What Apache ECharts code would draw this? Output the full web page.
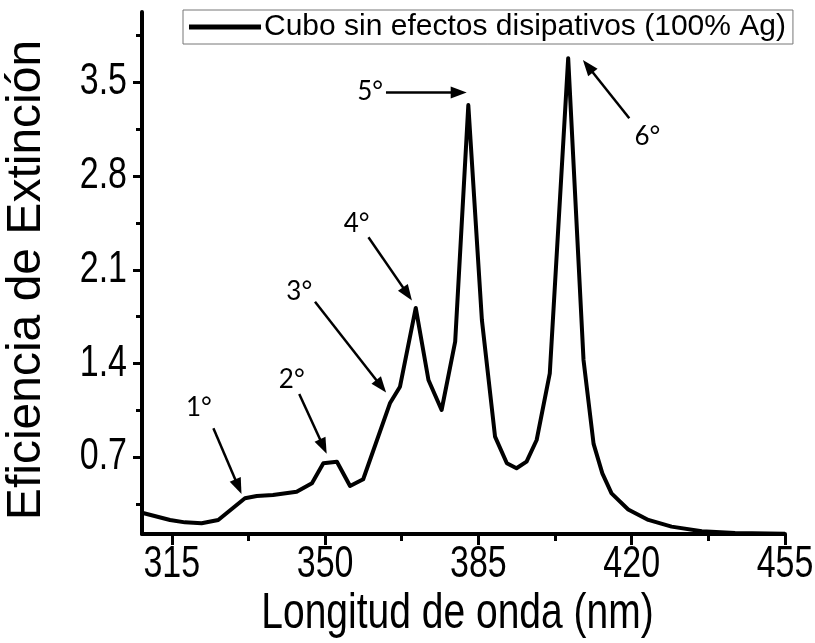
<!DOCTYPE html>
<html>
<head>
<meta charset="utf-8">
<script src="https://cdn.jsdelivr.net/npm/echarts@6/dist/echarts.min.js"></script>
<style>
html,body{margin:0;padding:0;background:#fff;}
#chart{width:815px;height:643px;}
</style>
</head>
<body>
<div id="chart"></div>
<script>
// ---- data ----
var seriesName = 'Cubo sin efectos disipativos (100% Ag)';
var xTitle = 'Longitud de onda (nm)';
var yTitle = 'Eficiencia de Extinción';
var wavelength = [308.2, 314.6, 318.0, 321.8, 325.6, 331.7, 334.4, 338.1, 343.5, 347.0, 349.6, 352.7, 355.7, 358.7, 364.8, 367.1, 370.7, 373.6, 376.6, 379.7, 382.7, 385.8, 388.8, 391.5, 393.7, 396.0, 398.3, 401.3, 405.5, 409.0, 411.3, 413.3, 415.4, 419.2, 423.8, 429.1, 436.0, 443.6, 455.0];
var efficiency = [0.286, 0.232, 0.214, 0.207, 0.232, 0.394, 0.411, 0.419, 0.443, 0.506, 0.655, 0.667, 0.486, 0.536, 1.103, 1.227, 1.815, 1.277, 1.053, 1.563, 3.33, 1.725, 0.854, 0.655, 0.618, 0.667, 0.829, 1.327, 3.68, 1.427, 0.80, 0.58, 0.43, 0.31, 0.232, 0.182, 0.148, 0.134, 0.128];
var xMajorTicks = [315, 350, 385, 420, 455];
var xMinorTicks = [332.5, 367.5, 402.5, 437.5];
var yMajorTicks = [0.7, 1.4, 2.1, 2.8, 3.5];
var yMinorTicks = [0.35, 1.05, 1.75, 2.45, 3.15, 3.85];
var xRange = [308.2, 455];
var yRange = [0.127, 4.025];
// annotation labels and arrows (data coordinates)
var annLabels = ['1°', '2°', '3°', '4°', '5°', '6°'];
var annLabelX = [321.2, 342.4, 344.1, 357.2, 360.3, 423.6];
var annLabelY = [1.072, 1.277, 1.937, 2.448, 3.43, 3.094];
var arrowFromX = [324.5, 344.1, 347.7, 359.9, 363.9, 419.45];
var arrowFromY = [0.917, 1.173, 1.862, 2.343, 3.423, 3.232];
var arrowToX = [330.2, 349.6, 362.8, 368.8, 380.5, 410.0];
var arrowToY = [0.48, 0.78, 1.23, 1.92, 3.423, 3.62];

var AX = 'Liberation Sans, Arial, sans-serif';
var tickFont = 34, tickStretch = 1.28;
var titleFont = 39, titleStretch = 1.28;

var pairs = wavelength.map(function (w, i) { return [w, efficiency[i]]; });
var arrowData = annLabels.map(function (l, i) {
  return [{ coord: [arrowFromX[i], arrowFromY[i]], symbol: 'none' },
          { coord: [arrowToX[i], arrowToY[i]], symbol: 'triangle' }];
});
var labelData = annLabels.map(function (l, i) {
  return { name: l, coord: [annLabelX[i], annLabelY[i]] };
});

var chart = echarts.init(document.getElementById('chart'), null, { renderer: 'canvas' });
chart.setOption({
  animation: false,
  backgroundColor: '#fff',
  grid: { left: 142, right: 30, top: 12, bottom: 109, containLabel: false, outerBoundsMode: 'none' },
  legend: {
    left: 183, top: 10,
    data: [seriesName],
    icon: 'rect', itemWidth: 72, itemHeight: 5, itemGap: 0,
    borderColor: '#777', borderWidth: 1, padding: [2, 7, 2, 6],
    textStyle: { fontFamily: AX, fontSize: 30, color: '#000', padding: [0, 0, 0, -2] }
  },
  xAxis: [{
    type: 'value', min: xRange[0], max: xRange[1],
    axisLine: { show: true, onZero: false, lineStyle: { color: '#000', width: 4 } },
    axisTick: { show: true, inside: false, length: 11, lineStyle: { color: '#000', width: 3 }, customValues: xMajorTicks },
    axisLabel: { show: false },
    splitLine: { show: false }
  }, {
    type: 'value', min: xRange[0], max: xRange[1], position: 'bottom',
    axisLine: { show: false, onZero: false },
    axisTick: { show: true, inside: false, length: 7, lineStyle: { color: '#000', width: 3 }, customValues: xMinorTicks },
    axisLabel: { show: false },
    splitLine: { show: false }
  }],
  yAxis: [{
    type: 'value', min: yRange[0], max: yRange[1],
    axisLine: { show: true, onZero: false, lineStyle: { color: '#000', width: 4 } },
    axisTick: { show: true, inside: false, length: 9, lineStyle: { color: '#000', width: 3 }, customValues: yMajorTicks },
    axisLabel: { show: false },
    splitLine: { show: false }
  }, {
    type: 'value', min: yRange[0], max: yRange[1], position: 'left',
    axisLine: { show: false, onZero: false },
    axisTick: { show: true, inside: false, length: 6, lineStyle: { color: '#000', width: 3 }, customValues: yMinorTicks },
    axisLabel: { show: false },
    splitLine: { show: false }
  }],
  series: [{
    name: seriesName,
    type: 'line',
    data: pairs,
    showSymbol: false, symbol: 'none',
    lineStyle: { color: '#000', width: 4, join: 'round' },
    itemStyle: { color: '#000' },
    z: 5,
    markLine: {
      silent: true, animation: false,
      symbolSize: [12, 16],
      lineStyle: { color: '#000', width: 2.5, type: 'solid' },
      label: { show: false },
      data: arrowData
    },
    markPoint: {
      silent: true, animation: false,
      symbol: 'circle', symbolSize: 0,
      label: { show: true, position: 'inside', formatter: '{b}', fontFamily: 'Lato, Open Sans, sans-serif', fontSize: 26, color: '#000' },
      data: labelData
    }
  }]
});

// tick labels and axis titles, placed through the axes' own scales
var x0 = chart.convertToPixel({ yAxisIndex: 0 }, yRange[0]); // pixel y of x-axis
var yAxisX = chart.convertToPixel({ xAxisIndex: 0 }, xRange[0]); // pixel x of y-axis
var gfx = [];
xMajorTicks.forEach(function (v) {
  gfx.push({
    type: 'text', x: chart.convertToPixel({ xAxisIndex: 0 }, v), y: x0 + 31,
    scaleY: tickStretch, silent: true,
    style: { text: String(v), fontFamily: AX, fontSize: tickFont, fill: '#000', align: 'center', verticalAlign: 'middle' }
  });
});
yMajorTicks.forEach(function (v) {
  gfx.push({
    type: 'text', x: yAxisX - 15, y: chart.convertToPixel({ yAxisIndex: 0 }, v),
    scaleY: tickStretch, silent: true,
    style: { text: v.toFixed(1), fontFamily: AX, fontSize: tickFont, fill: '#000', align: 'right', verticalAlign: 'middle' }
  });
});
gfx.push({
  type: 'text', x: chart.convertToPixel({ xAxisIndex: 0 }, (xRange[0] + xRange[1]) / 2) - 6, y: x0 + 80,
  scaleY: titleStretch, silent: true,
  style: { text: xTitle, fontFamily: AX, fontSize: titleFont, fill: '#000', align: 'center', verticalAlign: 'middle' }
});
gfx.push({
  type: 'text', x: 27, y: 280, rotation: Math.PI / 2, silent: true,
  style: { text: yTitle, fontFamily: AX, fontSize: 48, fill: '#000', align: 'center', verticalAlign: 'middle' }
});
chart.setOption({ graphic: gfx });
</script>
</body>
</html>
